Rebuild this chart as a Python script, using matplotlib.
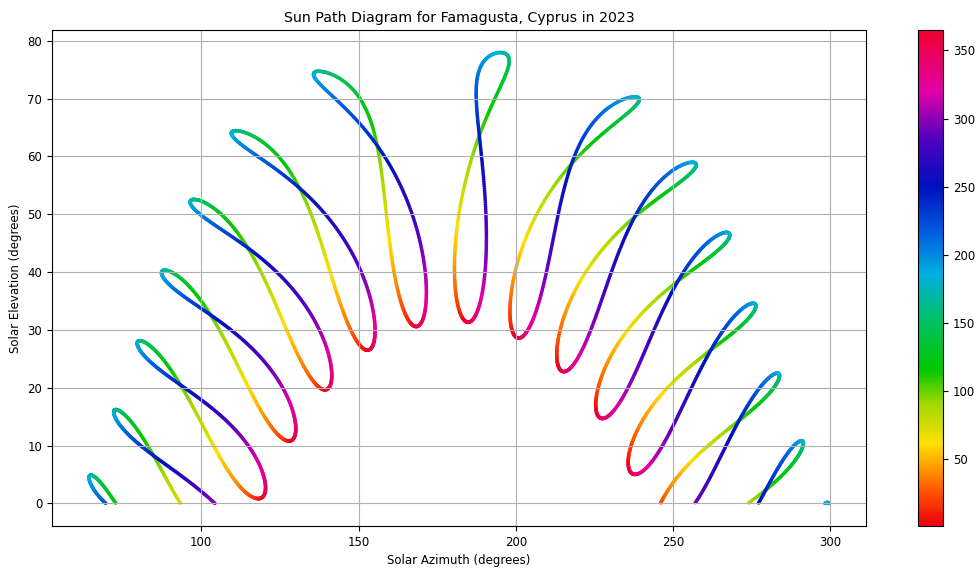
import numpy as np
import matplotlib
matplotlib.use("Agg")
import matplotlib.pyplot as plt
from matplotlib.colors import LinearSegmentedColormap

# Famagusta, Cyprus
latitud = 35.1149
longitud = 33.9392
anio = 2023
horas_utc = [3, 4, 5, 6, 7, 8, 9, 10, 11, 12, 13, 14, 15, 16, 17]
dias = np.arange(1, 366)

# colores de la barra
pos_colores = [0, 25, 60, 90, 115, 150, 185, 215, 250, 285, 320, 365]
colores = ["#ee0010", "#ff5500", "#ffe000", "#a0d800", "#00c800", "#00c060",
           "#00b0e0", "#0060e0", "#0010c0", "#5000c0", "#e000a8", "#f00030"]


def posicion_solar(dia, hora, lat, lon):
    # algoritmo NOAA
    jd = 2459945.5 + (dia - 1) + hora / 24.0  # 1 ene 2023 00:00 UTC
    t = (jd - 2451545.0) / 36525.0
    L0 = (280.46646 + t * (36000.76983 + t * 0.0003032)) % 360
    M = 357.52911 + t * (35999.05029 - 0.0001537 * t)
    e = 0.016708634 - t * (0.000042037 + 0.0000001267 * t)
    Mr = np.radians(M)
    C = (np.sin(Mr) * (1.914602 - t * (0.004817 + 0.000014 * t))
         + np.sin(2 * Mr) * (0.019993 - 0.000101 * t) + np.sin(3 * Mr) * 0.000289)
    omega = np.radians(125.04 - 1934.136 * t)
    lam = np.radians(L0 + C - 0.00569 - 0.00478 * np.sin(omega))
    eps0 = 23 + (26 + (21.448 - t * (46.815 + t * (0.00059 - t * 0.001813))) / 60) / 60
    eps = np.radians(eps0 + 0.00256 * np.cos(omega))
    decl = np.arcsin(np.sin(eps) * np.sin(lam))
    y = np.tan(eps / 2) ** 2
    L0r = np.radians(L0)
    eot = 4 * np.degrees(y * np.sin(2 * L0r) - 2 * e * np.sin(Mr)
                         + 4 * e * y * np.sin(Mr) * np.cos(2 * L0r)
                         - 0.5 * y * y * np.sin(4 * L0r) - 1.25 * e * e * np.sin(2 * Mr))
    tst = (hora * 60 + eot + 4 * lon) % 1440
    ha = np.radians(tst / 4 - 180)
    latr = np.radians(lat)
    cosz = np.sin(latr) * np.sin(decl) + np.cos(latr) * np.cos(decl) * np.cos(ha)
    z = np.arccos(np.clip(cosz, -1, 1))
    elev = 90 - np.degrees(z)
    # refraccion
    te = np.tan(np.radians(elev))
    refr = np.where(elev > 85, 0,
                    np.where(elev > 5, 58.1 / te - 0.07 / te ** 3 + 0.000086 / te ** 5,
                             np.where(elev > -0.575,
                                      1735 + elev * (-518.2 + elev * (103.4 + elev * (-12.79 + elev * 0.711))),
                                      -20.774 / te))) / 3600
    elev = elev + refr
    cosaz = (np.sin(latr) * np.cos(z) - np.sin(decl)) / (np.cos(latr) * np.sin(z))
    az = np.degrees(np.arccos(np.clip(cosaz, -1, 1)))
    az = np.where(ha > 0, (az + 180) % 360, (540 - az) % 360)
    return az, elev


cmap = LinearSegmentedColormap.from_list(
    "sol", [(p / 365, c) for p, c in zip(pos_colores, colores)])

plt.rcParams['font.size'] = 8.5
fig = plt.figure(figsize=(9.75, 5.68), dpi=100)
ax = fig.add_axes([52 / 975, 42 / 568, 814 / 975, 496 / 568])
cax = fig.add_axes([918 / 975, 42 / 568, 25 / 975, 496 / 568])
for h in horas_utc:
    az, el = posicion_solar(dias, h, latitud, longitud)
    m = el > 0
    sc = ax.scatter(az[m], el[m], c=dias[m], cmap=cmap, vmin=1, vmax=365, s=7, linewidths=0)

fig.colorbar(sc, cax=cax)
ax.set_xlabel('Solar Azimuth (degrees)')
ax.set_ylabel('Solar Elevation (degrees)')
ax.set_title('Sun Path Diagram for Famagusta, Cyprus in 2023', fontsize=10.2)
ax.grid(True)
plt.savefig('out.png')
